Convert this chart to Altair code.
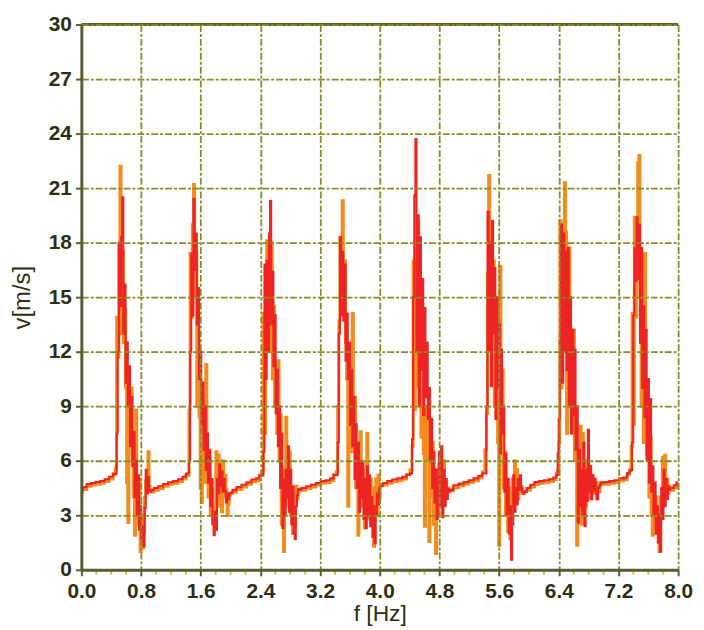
import altair as alt
import pandas as pd

# ---------------- data ----------------
STEP = 0.015  # sample spacing inside the bursts (Hz)

burst_start = [0.4651, 1.4352, 2.4319, 3.4286, 4.4252, 5.4219, 6.3920, 7.3754]

red_b1 = [5.3, 7.5, 12.0, 18.0, 14.5, 18.3, 20.5, 13.0, 15.7, 10.3, 12.5, 9.0, 11.2, 6.8, 9.5, 5.7,
          7.6, 4.0, 6.0, 3.0, 5.2, 2.2, 3.5, 1.6, 2.4, 1.3, 3.4, 5.5, 4.2, 5.1, 4.4, 4.3]
orange_b1 = [5.6, 13.9, 11.7, 17.9, 22.2, 13.0, 17.5, 12.5, 14.3, 10.0, 4.8, 2.6, 9.5, 7.0, 10.0, 6.0,
             4.0, 1.9, 8.8, 4.5, 2.5, 5.0, 1.0, 3.0, 1.2, 2.1, 4.0, 4.9, 5.4, 6.5, 4.6, 4.35]

red_b2 = [5.3, 6.0, 12.0, 17.4, 14.0, 20.4, 16.5, 18.5, 13.5, 15.5, 10.5, 12.0, 8.0, 10.3, 6.6, 9.0,
          5.5, 7.5, 4.8, 6.6, 3.5, 5.0, 2.5, 1.9, 3.2, 2.2, 5.0, 4.2, 5.8, 4.6, 5.4, 4.3, 5.0, 4.35,
          3.7, 4.2, 3.9, 4.2, 4.25]
orange_b2 = [5.2, 8.8, 17.4, 13.9, 19.0, 21.2, 15.0, 17.5, 9.0, 12.5, 8.4, 4.5, 3.7, 8.0, 5.0, 4.8,
             11.3, 6.0, 4.0, 6.2, 3.0, 4.5, 2.6, 3.5, 2.2, 6.5, 3.8, 6.3, 3.5, 5.5, 3.2, 6.0, 4.0, 5.2,
             4.4, 3.0, 3.6, 4.1, 4.2]

red_b3 = [5.2, 6.5, 16.8, 10.5, 17.0, 12.0, 18.5, 20.3, 13.5, 16.4, 11.2, 14.0, 8.6, 11.0, 6.8, 9.0,
          4.5, 7.5, 2.3, 5.0, 3.0, 5.5, 4.0, 6.8, 3.2, 5.5, 2.5, 4.6, 2.0, 1.7, 3.5, 4.1, 4.45, 4.4]
orange_b3 = [5.4, 14.1, 7.5, 14.0, 18.1, 13.0, 16.5, 12.0, 18.0, 10.5, 14.5, 9.0, 11.5, 7.5, 11.5, 6.0,
             8.5, 2.5, 5.0, 1.0, 5.5, 8.4, 3.5, 5.0, 6.5, 3.0, 4.5, 2.0, 4.2, 2.5, 4.6, 3.9, 4.3, 4.45]

red_b4 = [5.2, 7.0, 13.0, 18.3, 14.0, 17.5, 13.7, 16.8, 11.5, 14.1, 10.5, 12.5, 8.0, 11.0, 6.8, 9.5,
          5.0, 8.0, 4.5, 7.0, 3.2, 6.0, 4.0, 5.9, 2.8, 5.0, 2.3, 5.7, 3.0, 5.2, 2.4, 4.0, 1.8, 3.5,
          1.45, 3.0, 4.2, 3.6, 4.5, 4.6]
orange_b4 = [5.4, 9.0, 13.7, 18.3, 17.0, 20.3, 14.0, 17.0, 12.5, 10.5, 3.5, 8.0, 11.0, 6.5, 14.1, 7.0,
             9.5, 4.5, 6.5, 1.9, 5.5, 7.6, 3.5, 5.5, 4.0, 2.3, 5.0, 7.5, 4.5, 2.8, 5.0, 3.0, 4.5, 1.3,
             3.2, 5.0, 3.0, 5.2, 4.0, 4.7]

red_b5 = [5.3, 7.2, 15.0, 20.6, 23.7, 12.0, 19.5, 9.0, 18.3, 11.0, 16.0, 8.5, 14.4, 9.5, 12.5, 8.3,
          10.0, 6.0, 8.3, 4.5, 6.5, 3.7, 5.5, 2.8, 4.5, 6.5, 3.5, 6.8, 2.9, 5.5, 3.5, 5.0, 3.9, 4.45,
          4.3, 4.4]
orange_b5 = [5.5, 6.8, 17.0, 8.8, 15.0, 10.0, 19.2, 14.0, 16.0, 7.3, 12.0, 6.4, 2.4, 9.0, 6.0, 9.0,
             1.55, 6.0, 4.0, 7.0, 2.5, 5.5, 0.9, 5.0, 3.0, 5.8, 3.5, 5.0, 4.0, 6.0, 3.8, 4.8, 4.2, 4.5,
             4.4, 4.35]

red_b6 = [5.3, 9.0, 19.7, 12.0, 18.0, 10.1, 19.2, 13.0, 16.6, 8.3, 15.0, 10.0, 13.5, 6.4, 12.1, 7.5,
          9.0, 4.3, 6.4, 3.0, 5.0, 2.0, 3.5, 0.55, 2.5, 5.2, 3.2, 4.5, 3.6, 5.0, 4.4, 5.2, 4.5, 4.3,
          4.2, 4.3]
orange_b6 = [6.6, 8.6, 16.3, 21.7, 14.0, 19.0, 12.5, 17.0, 9.0, 14.5, 10.5, 7.0, 1.35, 16.7, 8.0, 11.0,
             4.5, 6.5, 3.0, 5.0, 2.1, 4.5, 1.7, 3.5, 5.0, 3.5, 6.0, 4.0, 5.5, 3.9, 5.0, 4.3, 4.6, 4.2,
             4.2, 4.3]

red_b7 = [6.4, 8.3, 12.6, 19.0, 10.3, 18.5, 12.0, 17.5, 11.0, 17.7, 9.0, 15.0, 7.5, 13.2, 8.5, 12.1,
          6.6, 9.0, 2.6, 6.6, 3.5, 5.5, 3.0, 7.0, 2.4, 5.5, 3.8, 7.7, 4.3, 5.7, 3.9, 5.2, 4.4, 5.0,
          4.2, 3.9, 4.5, 4.6, 4.7, 4.8]
orange_b7 = [5.5, 7.0, 19.2, 10.0, 17.5, 12.0, 21.3, 18.6, 7.5, 14.0, 17.7, 9.0, 12.0, 7.5, 13.2, 6.0,
             8.0, 1.35, 5.5, 3.5, 7.9, 2.5, 7.5, 2.6, 5.0, 3.5, 6.0, 4.3, 5.7, 3.9, 5.2, 4.3, 5.0, 4.2,
             4.8, 3.9, 4.6, 4.3, 4.8, 4.7]

red_b8 = [5.5, 7.0, 14.0, 17.7, 15.9, 19.4, 16.0, 19.0, 12.5, 17.7, 10.0, 14.5, 8.4, 13.2, 6.0, 10.5,
          4.8, 9.4, 4.3, 5.7, 3.0, 4.8, 2.0, 3.5, 1.5, 3.0, 1.0, 4.5, 2.8, 5.5, 3.5, 5.0, 3.9, 4.6,
          4.4, 4.5]
orange_b8 = [6.8, 14.1, 8.0, 19.4, 13.9, 18.0, 22.4, 22.8, 15.0, 9.0, 14.0, 7.0, 17.4, 10.3, 6.3, 9.0,
             4.0, 7.3, 3.0, 1.9, 4.5, 2.5, 4.0, 2.0, 3.5, 1.0, 4.0, 3.0, 6.2, 4.0, 6.3, 4.5, 5.0, 4.2,
             4.6, 4.4]

# quiet baseline between the bursts
base_x = [0.0, 0.04, 0.1, 0.16, 0.22, 0.28, 0.34, 0.4, 0.45,
          0.943, 0.997, 1.063, 1.13, 1.196, 1.262, 1.329, 1.382, 1.422,
          2.046, 2.113, 2.179, 2.246, 2.312, 2.365, 2.405,
          2.977, 3.043, 3.110, 3.176, 3.242, 3.309, 3.362, 3.402,
          4.066, 4.133, 4.199, 4.266, 4.332, 4.385,
          5.023, 5.090, 5.156, 5.223, 5.289, 5.355, 5.395,
          5.993, 6.047, 6.100, 6.166, 6.233, 6.299, 6.352, 6.379,
          7.043, 7.110, 7.176, 7.243, 7.296, 7.336, 7.362,
          7.92, 7.96, 8.0]
base_red = [4.4, 4.55, 4.72, 4.78, 4.83, 4.88, 4.98, 5.12, 5.25,
            4.4, 4.5, 4.6, 4.72, 4.82, 4.88, 4.98, 5.12, 5.3,
            4.4, 4.55, 4.68, 4.82, 4.97, 5.03, 5.18,
            4.5, 4.6, 4.68, 4.78, 4.88, 4.93, 5.03, 5.22,
            4.78, 4.88, 4.97, 5.03, 5.12, 5.22,
            4.65, 4.74, 4.83, 4.93, 5.03, 5.17, 5.3,
            4.5, 4.68, 4.83, 4.88, 4.93, 4.98, 5.08, 5.22,
            4.83, 4.88, 4.93, 5.03, 5.08, 5.32, 5.45,
            4.5, 4.65, 4.82]
base_orange = [4.28, 4.42, 4.6, 4.66, 4.7, 4.76, 4.86, 5.0, 5.3,
               4.28, 4.37, 4.47, 4.6, 4.7, 4.76, 4.86, 5.0, 5.2,
               4.27, 4.42, 4.56, 4.7, 4.85, 4.9, 5.2,
               4.37, 4.47, 4.56, 4.66, 4.76, 4.8, 4.9, 5.25,
               4.66, 4.76, 4.85, 4.9, 5.0, 5.25,
               4.52, 4.62, 4.7, 4.8, 4.9, 5.05, 5.4,
               4.37, 4.56, 4.7, 4.76, 4.8, 4.86, 4.95, 5.3,
               4.7, 4.76, 4.8, 4.9, 4.95, 5.25, 5.5,
               4.37, 4.52, 4.7]

red_bursts = [red_b1, red_b2, red_b3, red_b4, red_b5, red_b6, red_b7, red_b8]
orange_bursts = [orange_b1, orange_b2, orange_b3, orange_b4, orange_b5, orange_b6, orange_b7, orange_b8]

x_ticks = [0.0, 0.8, 1.6, 2.4, 3.2, 4.0, 4.8, 5.6, 6.4, 7.2, 8.0]
y_ticks = [0, 3, 6, 9, 12, 15, 18, 21, 24, 27, 30]
x_minor = [0.2, 0.4, 0.6, 1.0, 1.2, 1.4, 1.8, 2.0, 2.2, 2.6, 2.8, 3.0, 3.4, 3.6, 3.8,
           4.2, 4.4, 4.6, 5.0, 5.2, 5.4, 5.8, 6.0, 6.2, 6.6, 6.8, 7.0, 7.4, 7.6, 7.8]


def build(base_vals, bursts):
    xs = list(base_x)
    ys = list(base_vals)
    for t0, vals in zip(burst_start, bursts):
        for i, v in enumerate(vals):
            xs.append(t0 + i * STEP)
            ys.append(v)
    return pd.DataFrame({"f": xs, "v": ys}).sort_values("f")


df_red = build(base_red, red_bursts)
df_orange = build(base_orange, orange_bursts)

# ---------------- styling ----------------
OLIVE = "#5c5c30"
GRID = "#8c8c26"
TEXT = "#2e2e10"
FONT = "Liberation Sans"

x_scale = alt.Scale(domain=[0, 8], nice=False, zero=False)
y_scale = alt.Scale(domain=[0, 30], nice=False, zero=True)

x_axis = alt.Axis(
    values=x_ticks, format=".1f", title="f [Hz]",
    grid=True, gridColor=GRID, gridDash=[7, 2, 3, 2], gridWidth=1.8,
    domainColor=OLIVE, domainWidth=3, tickColor=OLIVE, tickSize=6, tickWidth=2,
    labelFont=FONT, labelFontSize=21, labelFontWeight="bold", labelColor=TEXT,
    labelPadding=5, labelFlush=False, labelOverlap=False,
    titleFont=FONT, titleFontSize=23, titleFontWeight="normal", titleColor=TEXT,
    titleX=301, titleY=51, titleAlign="center", titleBaseline="alphabetic",
    zindex=1,
)
y_axis = alt.Axis(
    values=y_ticks, format="d", title="v[m/s]",
    grid=True, gridColor=GRID, gridDash=[7, 2, 3, 2], gridWidth=1.8,
    domainColor=OLIVE, domainWidth=3, tickColor=OLIVE, tickSize=6, tickWidth=2,
    labelFont=FONT, labelFontSize=21, labelFontWeight="bold", labelColor=TEXT,
    labelPadding=4, labelFlush=False, labelOverlap=False,
    titleFont=FONT, titleFontSize=24, titleFontWeight="normal", titleColor=TEXT,
    titleAngle=-90, titleX=-52, titleY=275, titleAlign="center", titleBaseline="alphabetic",
    zindex=1,
)

orange_line = alt.Chart(df_orange).mark_line(
    color="#f28c1e", strokeWidth=3.0, interpolate="step"
).encode(
    x=alt.X("f:Q", scale=x_scale, axis=x_axis),
    y=alt.Y("v:Q", scale=y_scale, axis=y_axis),
)
red_line = alt.Chart(df_red).mark_line(
    color="#ee2424", strokeWidth=2.1, interpolate="step"
).encode(
    x=alt.X("f:Q", scale=x_scale),
    y=alt.Y("v:Q", scale=y_scale),
)

top_frame = alt.Chart(pd.DataFrame({"a": [0]})).mark_rule(color=OLIVE, strokeWidth=3).encode(
    y=alt.datum(30)
)

minor = alt.Chart(pd.DataFrame({"m": x_minor})).mark_rule(color="#c8c83a", strokeWidth=2).encode(
    x=alt.X("m:Q", scale=x_scale),
    y=alt.value(551),
    y2=alt.value(555),
)

chart = alt.layer(orange_line, red_line, top_frame, minor).properties(
    width=602,
    height=550,
    autosize=alt.AutoSizeParams(type="none"),
    padding={"left": 74, "top": 14, "right": 18, "bottom": 56},
    background="white",
).configure_view(stroke=None)

chart.save("out.html", embed_options={"renderer": "svg", "actions": False})
